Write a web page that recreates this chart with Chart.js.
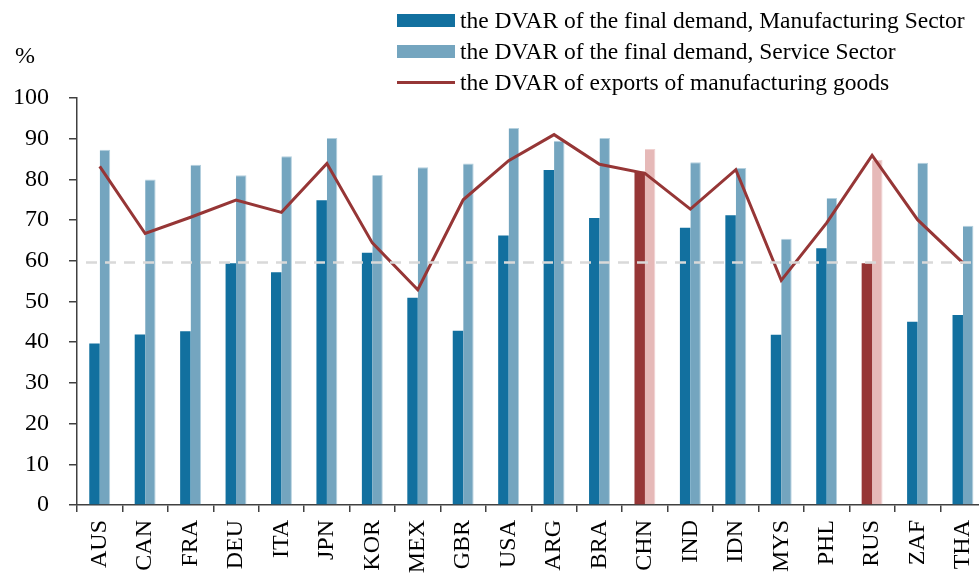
<!DOCTYPE html>
<html lang="en">
<head>
<meta charset="UTF-8">
<title>DVAR</title>
<script src="https://cdn.jsdelivr.net/npm/chart.js"></script>
<style>
    * { margin: 0; padding: 0; }
    body { width: 979px; height: 573px; overflow: hidden; background: #fff; font-family: "Liberation Serif", "Times New Roman", serif; position: relative; }
    #box { position: absolute; left: 0; top: 0; width: 1000px; height: 600px; }
    #pct { position: absolute; left: 15px; top: 42px; font-size: 24px; color: #000; }
    #legend { position: absolute; left: 397px; top: 5px; font-size: 23.5px; color: #000; }
    #legend .row { display: flex; align-items: center; height: 31px; white-space: nowrap; }
    #legend .sw { width: 58px; margin-right: 5px; }
</style>
</head>
<body>
<div id="box"><canvas id="grafico"></canvas></div>
<div id="pct">%</div>
<div id="legend"></div>
<script>
const paises = ['AUS', 'CAN', 'FRA', 'DEU', 'ITA', 'JPN', 'KOR', 'MEX', 'GBR', 'USA',
    'ARG', 'BRA', 'CHN', 'IND', 'IDN', 'MYS', 'PHL', 'RUS', 'ZAF', 'THA'];
const manufatura = [39.7, 41.9, 42.7, 59.4, 57.2, 74.9, 62.0, 50.9, 42.8, 66.2,
    82.3, 70.5, 81.9, 68.1, 71.2, 41.8, 63.1, 59.4, 45.0, 46.7];
const servicos = [87.3, 80.0, 83.6, 81.0, 85.7, 90.2, 81.1, 83.0, 83.9, 92.6,
    89.5, 90.2, 87.5, 84.2, 82.8, 65.4, 75.4, 84.8, 84.1, 68.6];
const exportacoes = [83.2, 66.7, 70.7, 74.9, 71.9, 83.9, 64.4, 52.9, 75.0, 84.6,
    91.0, 83.7, 81.5, 72.7, 82.4, 55.2, 69.3, 85.9, 70.1, 59.5];
const destaques = ['CHN', 'RUS'];
const linhaRef = 59.6;
const ticksY = [0, 10, 20, 30, 40, 50, 60, 70, 80, 90, 100];

const azul = '#12709f';
const azulClaro = '#74a5bf';
const vermelho = '#963636';
const rosa = '#e6b9b8';

const corManuf = paises.map(p => destaques.includes(p) ? vermelho : azul);
const corServ = paises.map(p => destaques.includes(p) ? rosa : azulClaro);
const bordaServ = paises.map(p => destaques.includes(p) ? '#f0d2d1' : '#b4d0de');

// linha tracejada de referencia
const linhaTracejada = {
    id: 'linhaTracejada',
    afterDatasetsDraw(chart) {
        const { ctx, chartArea, scales } = chart;
        const y = scales.y.getPixelForValue(linhaRef);
        ctx.save();
        ctx.strokeStyle = '#d9d9d9';
        ctx.lineWidth = 2.5;
        ctx.setLineDash([11, 8]);
        ctx.beginPath();
        ctx.moveTo(chartArea.left + 9, y);
        ctx.lineTo(chart.width, y);
        ctx.stroke();
        ctx.restore();
    }
};

const fonte = { family: '"Liberation Serif", "Times New Roman", serif', size: 24 };

const grafico = new Chart(document.getElementById('grafico'), {
    type: 'bar',
    data: {
        labels: paises,
        datasets: [
            {
                type: 'line',
                label: 'the DVAR of exports of manufacturing goods',
                data: exportacoes,
                borderColor: vermelho,
                borderWidth: 3,
                pointRadius: 0,
                tension: 0,
                order: 0
            },
            {
                label: 'the DVAR of the final demand, Manufacturing Sector',
                data: manufatura,
                backgroundColor: corManuf,
                categoryPercentage: 0.46,
                barPercentage: 1,
                order: 1
            },
            {
                label: 'the DVAR of the final demand, Service Sector',
                data: servicos,
                backgroundColor: corServ,
                borderColor: bordaServ,
                borderWidth: { top: 1, right: 1, left: 0, bottom: 0 },
                categoryPercentage: 0.46,
                barPercentage: 1,
                order: 1
            }
        ]
    },
    options: {
        responsive: true,
        maintainAspectRatio: false,
        animation: false,
        layout: { padding: { top: 98, right: 9, left: 0, bottom: 0 } },
        plugins: {
            legend: { display: false },
            tooltip: { enabled: false }
        },
        scales: {
            x: {
                offset: true,
                grid: { display: true, offset: true, drawOnChartArea: false, drawTicks: true, tickLength: 7, color: '#404040', lineWidth: 1.5 },
                border: { display: true, color: '#404040', width: 1.5 },
                ticks: { color: '#000', font: fonte, minRotation: 90, maxRotation: 90, padding: 8 },
                afterFit(scale) { scale.height = 95; }
            },
            y: {
                min: 0,
                max: 100,
                afterBuildTicks(scale) { scale.ticks = ticksY.map(v => ({ value: v })); },
                grid: { display: true, drawOnChartArea: false, drawTicks: true, tickLength: 8, color: '#404040', lineWidth: 1.5 },
                border: { display: true, color: '#404040', width: 1.5 },
                ticks: { color: '#000', font: fonte, padding: 20 },
                afterFit(scale) { scale.width = 77; }
            }
        }
    },
    plugins: [linhaTracejada]
});

// legenda em html
const ordemLegenda = [1, 2, 0];
const legenda = document.getElementById('legend');
ordemLegenda.forEach(i => {
    const ds = grafico.data.datasets[i];
    const linha = document.createElement('div');
    linha.className = 'row';
    const sw = document.createElement('div');
    sw.className = 'sw';
    if (ds.type === 'line') {
        sw.style.height = '3px';
        sw.style.background = ds.borderColor;
    } else {
        sw.style.height = '13px';
        sw.style.background = i === 1 ? azul : azulClaro;
    }
    const txt = document.createElement('span');
    txt.textContent = ds.label;
    linha.appendChild(sw);
    linha.appendChild(txt);
    legenda.appendChild(linha);
});
</script>
</body>
</html>
